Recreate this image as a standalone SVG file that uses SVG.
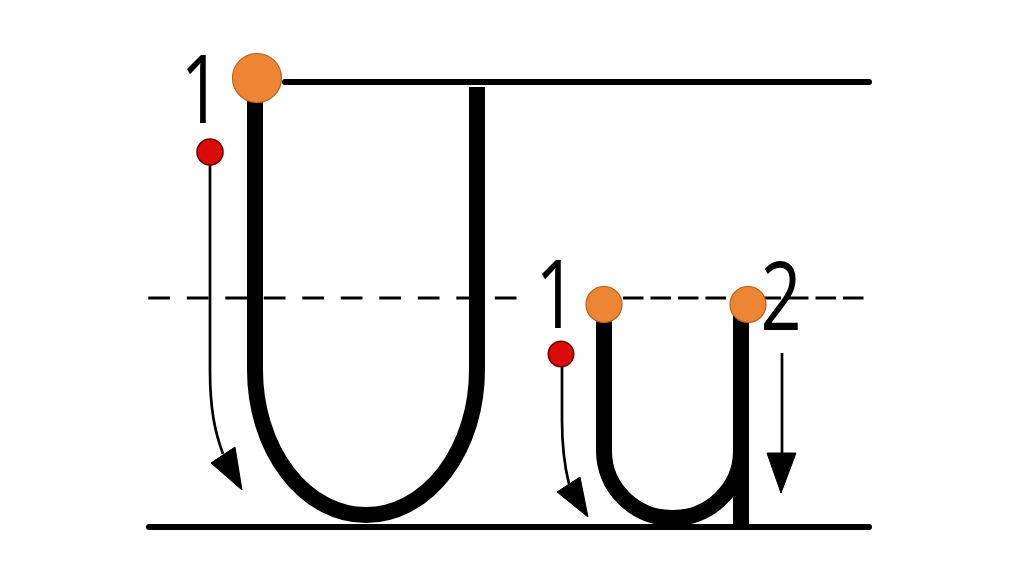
<svg xmlns="http://www.w3.org/2000/svg" width="1024" height="574" viewBox="0 0 1024 574">
  <style>
    .rule { stroke: #000; stroke-width: 6; stroke-linecap: round; fill: none; }
    .dash { stroke: #000; stroke-width: 3; fill: none; }
    .letter { stroke: #000; stroke-width: 16; fill: none; stroke-linecap: butt; }
    .arrow { stroke: #000; stroke-width: 2.7; fill: none; }
    .head { fill: #000; stroke: #000; stroke-width: 1; stroke-linejoin: round; }
    .start { fill: #EE8534; stroke: #B5611F; stroke-width: 1.2; }
    .dot { fill: #DD0A0A; stroke: #6E0000; stroke-width: 1.6; }
    .num { font-family: "Open Sans", "Noto Sans", "DejaVu Sans", sans-serif; font-size: 96px; fill: #000; text-anchor: middle; }
  </style>
  <rect width="1024" height="574" fill="#fff"/>

  <g id="guides">
    <line class="rule" x1="285" y1="82" x2="869" y2="82"/>
    <line class="rule" x1="149" y1="527" x2="869" y2="527"/>
    <line class="dash" x1="148.3" y1="298" x2="517" y2="298" stroke-dasharray="21.7 16.8"/>
    <line class="dash" x1="623" y1="298" x2="864" y2="298" stroke-dasharray="20.5 7"/>
  </g>

  <g id="letter-U">
    <path class="letter" d="M255,95 L255,370 A111,145 0 0 0 477,370 L477,87"/>
    <circle class="start" cx="257" cy="78" r="24.5"/>
  </g>

  <g id="letter-u">
    <path class="letter" d="M604,310 L604,451 A68.5,67 0 0 0 741,451"/>
    <line class="letter" x1="741" y1="310" x2="741" y2="528"/>
    <circle class="start" cx="604" cy="304.5" r="18"/>
    <circle class="start" cx="748" cy="304.5" r="18"/>
  </g>

  <g id="connectors">
    <path class="arrow" d="M210,162 L210,370 C210,410 215,432 223,454"/>
    <polygon class="head" points="211,463 235,447 242,490"/>
    <path class="arrow" d="M562,365 L562,420 C562,450 565,468 569,484"/>
    <polygon class="head" points="557,492 580,477 588,517"/>
    <line class="arrow" x1="782" y1="353" x2="782" y2="456"/>
    <polygon class="head" points="767,453 796,453 781,493"/>
  </g>

  <g id="dot-U">
    <circle class="dot" cx="210" cy="152" r="13"/>
  </g>
  <g id="dot-u">
    <circle class="dot" cx="561" cy="354" r="12.7"/>
  </g>

  <g id="labels">
    <text class="num" transform="translate(201,123) scale(0.75,1)">1</text>
    <text class="num" transform="translate(556,328) scale(0.75,1)">1</text>
    <text class="num" transform="translate(781,330) scale(0.75,1)">2</text>
  </g>
</svg>
